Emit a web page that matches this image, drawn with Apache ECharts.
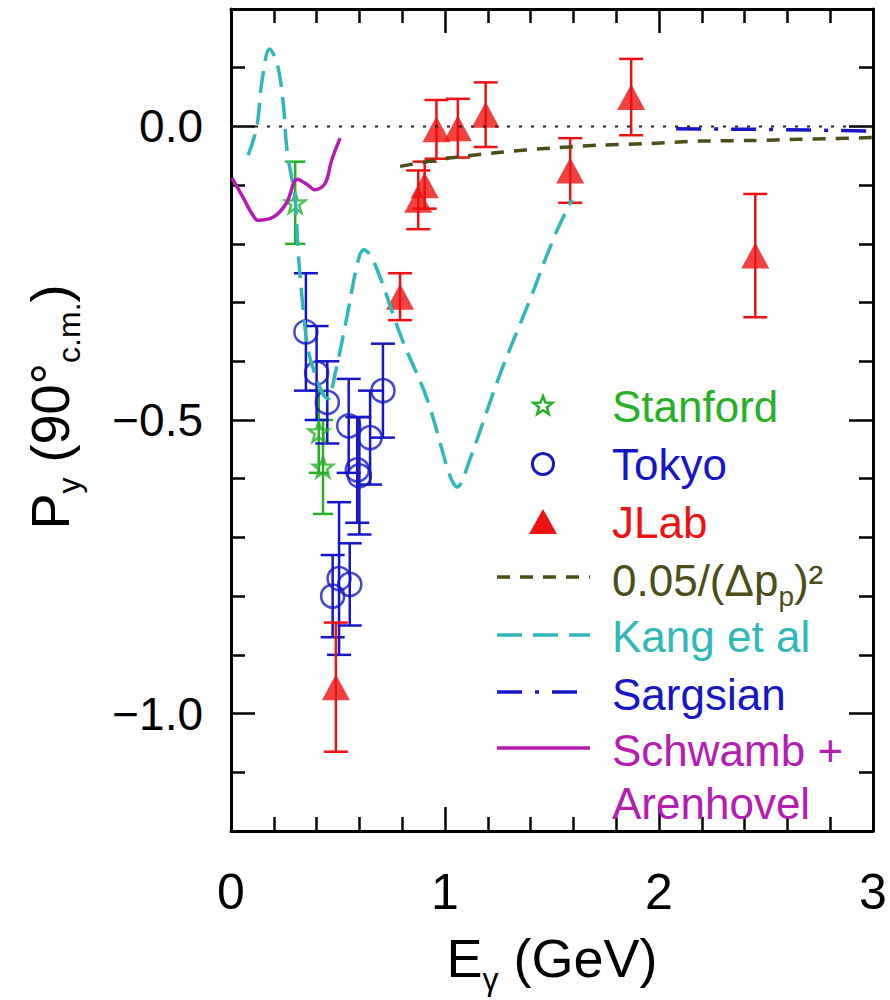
<!DOCTYPE html>
<html>
<head>
<meta charset="utf-8">
<script src="https://cdn.jsdelivr.net/npm/echarts@6/dist/echarts.min.js"></script>
<style>
html,body{margin:0;padding:0;background:#ffffff;}
#chart{width:890px;height:1000px;}
</style>
</head>
<body>
<div id="chart"></div>
<script>
// ---------------- data ----------------
const xMajorTicks = [0, 1, 2, 3];
const xMinorTicks = [0.2, 0.4, 0.6, 0.8, 1.2, 1.4, 1.6, 1.8, 2.2, 2.4, 2.6, 2.8];
const yMajorTicks = [0, -0.5, -1.0];
const yMinorTicks = [0.1, -0.1, -0.2, -0.3, -0.4, -0.6, -0.7, -0.8, -0.9, -1.1];

const stanfordE   = [0.30, 0.41, 0.43];
const stanfordP   = [-0.13, -0.52, -0.58];
const stanfordErr = [0.07, 0.07, 0.08];

const tokyoE   = [0.35, 0.40, 0.45, 0.55, 0.59, 0.60, 0.65, 0.71, 0.505, 0.555, 0.475];
const tokyoP   = [-0.35, -0.42, -0.47, -0.51, -0.585, -0.595, -0.53, -0.45, -0.77, -0.78, -0.80];
const tokyoErr = [0.10, 0.08, 0.07, 0.08, 0.09, 0.10, 0.08, 0.08, 0.13, 0.07, 0.07];

const jlabE   = [0.49, 0.79, 0.875, 0.905, 0.96, 1.06, 1.19, 1.585, 1.87, 2.45];
const jlabP   = [-0.955, -0.29, -0.125, -0.10, -0.005, -0.003, 0.02, -0.075, 0.05, -0.22];
const jlabErr = [0.11, 0.04, 0.05, 0.04, 0.05, 0.05, 0.055, 0.055, 0.065, 0.105];

const scalingE = [0.79, 1.02, 1.26, 1.49, 1.72, 1.96, 2.19, 2.43, 2.66, 3.0];
const scalingP = [-0.068, -0.054, -0.044, -0.037, -0.032, -0.029, -0.025, -0.024, -0.022, -0.019];

const kangE = [0.08, 0.12, 0.145, 0.18, 0.215, 0.243, 0.262, 0.30, 0.313, 0.336, 0.36, 0.393, 0.43, 0.453,
               0.486, 0.542, 0.593, 0.62, 0.664, 0.80, 0.916, 1.023, 1.056, 1.117, 1.257, 1.397, 1.514, 1.593];
const kangP = [-0.049, -0.002, 0.078, 0.132, 0.108, 0.044, -0.041, -0.125, -0.21, -0.307, -0.38, -0.422, -0.456, -0.464,
               -0.422, -0.324, -0.23, -0.21, -0.227, -0.363, -0.464, -0.595, -0.614, -0.566, -0.422, -0.295, -0.185, -0.125];

const sargE = [2.08, 2.5, 3.0];
const sargP = [-0.004, -0.005, -0.008];

const schE = [0.005, 0.055, 0.10, 0.126, 0.20, 0.26, 0.31, 0.36, 0.39, 0.44, 0.47, 0.51];
const schP = [-0.088, -0.12, -0.15, -0.16, -0.154, -0.13, -0.09, -0.10, -0.108, -0.097, -0.058, -0.02];

const zeroE = [0, 3];
const zeroP = [0, 0];

// ---------------- styling ----------------
const FONT = '"Liberation Sans", Arial, Helvetica, sans-serif';
const C = {
  green: '#27b027', blue: '#1616c8', red: '#ee1111', olive: '#4d4d17',
  cyan: '#2fb8b8', sarg: '#1616c8', magenta: '#b41cb4', black: '#000000'
};
const STAR = 'path://M0,-10L2.35,-3.24L9.51,-3.09L3.8,1.24L5.88,8.09L0,4L-5.88,8.09L-3.8,1.24L-9.51,-3.09L-2.35,-3.24Z';

function zip(a, b) { return a.map((v, i) => [v, b[i]]); }
function zip3(a, b, c) { return a.map((v, i) => [v, b[i], c[i]]); }

function errRenderer(color, cap) {
  return function (params, api) {
    const x = api.value(0), y = api.value(1), e = api.value(2);
    const hi = api.coord([x, y + e]);
    const lo = api.coord([x, y - e]);
    const st = { stroke: color, lineWidth: 2.5 };
    return {
      type: 'group',
      children: [
        { type: 'line', shape: { x1: hi[0], y1: hi[1], x2: lo[0], y2: lo[1] }, style: st },
        { type: 'line', shape: { x1: hi[0] - cap, y1: hi[1], x2: hi[0] + cap, y2: hi[1] }, style: st },
        { type: 'line', shape: { x1: lo[0] - cap, y1: lo[1], x2: lo[0] + cap, y2: lo[1] }, style: st }
      ]
    };
  };
}

function xAxisDef(position, ticks, len, withLine, withLabels) {
  return {
    type: 'value', min: 0, max: 3, position: position,
    axisLine: { show: withLine, onZero: false, lineStyle: { color: C.black, width: 3 } },
    axisTick: { show: true, inside: true, length: len, customValues: ticks, lineStyle: { color: C.black, width: 2.5 } },
    axisLabel: withLabels ? {
      show: true, customValues: xMajorTicks, margin: 36, color: C.black,
      fontSize: 50, fontFamily: FONT, formatter: v => String(Math.round(v))
    } : { show: false },
    splitLine: { show: false }
  };
}
function yAxisDef(position, ticks, len, withLine, withLabels) {
  return {
    type: 'value', min: -1.2, max: 0.2, position: position,
    axisLine: { show: withLine, onZero: false, lineStyle: { color: C.black, width: 3 } },
    axisTick: { show: true, inside: true, length: len, customValues: ticks, lineStyle: { color: C.black, width: 2.5 } },
    axisLabel: withLabels ? {
      show: true, customValues: yMajorTicks, margin: 28, color: C.black,
      fontSize: 46, fontFamily: FONT,
      formatter: v => (Math.abs(v) < 1e-9 ? '0.0' : (v < 0 ? '\u2212' : '') + Math.abs(v).toFixed(1))
    } : { show: false },
    splitLine: { show: false }
  };
}

const xAxes = [
  xAxisDef('bottom', xMinorTicks, 14, true, true),
  xAxisDef('bottom', xMajorTicks, 24, false, false),
  xAxisDef('top', xMinorTicks, 14, true, false),
  xAxisDef('top', xMajorTicks, 24, false, false)
];
xAxes[0].name = '{b|E}{s|\u03b3}{b| (GeV)}';
xAxes[0].nameLocation = 'middle';
xAxes[0].nameGap = 90;
xAxes[0].nameTextStyle = {
  color: C.black, fontFamily: FONT,
  rich: {
    b: { fontSize: 54, lineHeight: 74, fontFamily: FONT, color: C.black },
    s: { fontSize: 32, lineHeight: 32, verticalAlign: 'bottom', fontFamily: FONT, color: C.black }
  }
};

const yAxes = [
  yAxisDef('left', yMinorTicks, 14, true, true),
  yAxisDef('left', yMajorTicks, 24, false, false),
  yAxisDef('right', yMinorTicks, 14, true, false),
  yAxisDef('right', yMajorTicks, 24, false, false)
];
yAxes[0].name = '{b|P}{s|y}{b| (90\u00b0}{s|c.m.}{b|)}';
yAxes[0].nameLocation = 'middle';
yAxes[0].nameRotate = 90;
yAxes[0].nameGap = 146;
yAxes[0].nameTextStyle = {
  color: C.black, fontFamily: FONT, padding: [0, 0, 0, 26],
  rich: {
    b: { fontSize: 54, lineHeight: 70, fontFamily: FONT, color: C.black },
    s: { fontSize: 32, lineHeight: 32, verticalAlign: 'bottom', fontFamily: FONT, color: C.black }
  }
};

// ---------------- legend (graphic) ----------------
const LX0 = 497, LX1 = 590, LM = 543, LT = 612;
function legText(y, text, color) {
  return { type: 'text', x: LT, y: y, z: 100,
    style: { text: text, fill: color, fontSize: 44, fontFamily: FONT, verticalAlign: 'middle', align: 'left' } };
}
function legLine(y, color, dash) {
  return { type: 'line', z: 100, shape: { x1: LX0, y1: y, x2: LX1, y2: y },
    style: { stroke: color, lineWidth: 3.5, lineDash: dash } };
}
function starPoints(cx, cy, R, r) {
  const pts = [];
  for (let i = 0; i < 10; i++) {
    const a = -Math.PI / 2 + i * Math.PI / 5;
    const rad = i % 2 === 0 ? R : r;
    pts.push([cx + rad * Math.cos(a), cy + rad * Math.sin(a)]);
  }
  return pts;
}
const graphic = [
  { type: 'polygon', z: 100, shape: { points: starPoints(LM, 406, 10, 4.2) }, style: { fill: 'none', stroke: C.green, lineWidth: 2.5 } },
  legText(406, 'Stanford', C.green),
  { type: 'circle', z: 100, shape: { cx: LM, cy: 464, r: 10.5 }, style: { fill: 'none', stroke: C.blue, lineWidth: 3 } },
  legText(464, 'Tokyo', C.blue),
  { type: 'polygon', z: 100, shape: { points: [[LM, 509], [LM + 14, 534], [LM - 14, 534]] }, style: { fill: C.red } },
  legText(522, 'JLab', C.red),
  legLine(577, C.olive, [13, 10]),
  { type: 'text', x: LT, y: 580, z: 100,
    style: {
      text: '{n|0.05/(\u0394p}{s|p}{n|)\u00b2}', verticalAlign: 'middle', align: 'left',
      rich: {
        n: { fontSize: 44, lineHeight: 60, fontFamily: FONT, fill: C.olive },
        s: { fontSize: 28, lineHeight: 28, verticalAlign: 'bottom', fontFamily: FONT, fill: C.olive }
      }
    } },
  legLine(635, C.cyan, [25, 11]),
  legText(636, 'Kang et al', C.cyan),
  legLine(692, C.sarg, [25, 13, 4, 13]),
  legText(694, 'Sargsian', C.sarg),
  legLine(748, C.magenta, null),
  legText(750, 'Schwamb +', C.magenta),
  legText(803, 'Arenhovel', C.magenta)
];

// ---------------- chart ----------------
const chart = echarts.init(document.getElementById('chart'), null, { renderer: 'svg' });
chart.setOption({
  animation: false,
  backgroundColor: '#ffffff',
  grid: { left: 231, right: 17, top: 9, bottom: 165, containLabel: false },
  xAxis: xAxes,
  yAxis: yAxes,
  graphic: graphic,
  series: [
    { name: 'zero', type: 'line', data: zip(zeroE, zeroP), symbol: 'none', silent: true,
      lineStyle: { color: '#222222', width: 2, type: [3, 9] } },
    { name: '0.05/(\u0394p_p)\u00b2', type: 'line', data: zip(scalingE, scalingP), symbol: 'none', smooth: 0.3,
      lineStyle: { color: C.olive, width: 3.5, type: [13, 10] } },
    { name: 'Kang et al', type: 'line', data: zip(kangE, kangP), symbol: 'none', smooth: 0.35,
      lineStyle: { color: C.cyan, width: 3.5, type: [22, 10] } },
    { name: 'Sargsian', type: 'line', data: zip(sargE, sargP), symbol: 'none',
      lineStyle: { color: C.sarg, width: 3.5, type: [25, 13, 4, 13] } },
    { name: 'Schwamb + Arenhovel', type: 'line', data: zip(schE, schP), symbol: 'none', smooth: 0.35,
      lineStyle: { color: C.magenta, width: 3.5 } },
    { name: 'Stanford err', type: 'custom', data: zip3(stanfordE, stanfordP, stanfordErr),
      encode: { x: 0, y: 1 }, renderItem: errRenderer(C.green, 10), silent: true },
    { name: 'Tokyo err', type: 'custom', data: zip3(tokyoE, tokyoP, tokyoErr),
      encode: { x: 0, y: 1 }, renderItem: errRenderer(C.blue, 12), silent: true },
    { name: 'JLab err', type: 'custom', data: zip3(jlabE, jlabP, jlabErr),
      encode: { x: 0, y: 1 }, renderItem: errRenderer(C.red, 12), silent: true },
    { name: 'Stanford', type: 'scatter', data: zip(stanfordE, stanfordP), symbol: STAR, symbolSize: 20,
      itemStyle: { color: 'rgba(255,255,255,0)', borderColor: C.green, borderWidth: 2.5 } },
    { name: 'Tokyo', type: 'scatter', data: zip(tokyoE, tokyoP), symbol: 'circle', symbolSize: 23,
      itemStyle: { color: 'rgba(255,255,255,0)', borderColor: C.blue, borderWidth: 2.5 } },
    { name: 'JLab', type: 'scatter', data: zip(jlabE, jlabP), symbol: 'triangle', symbolSize: [28, 26],
      itemStyle: { color: C.red } }
  ]
});
</script>
</body>
</html>
